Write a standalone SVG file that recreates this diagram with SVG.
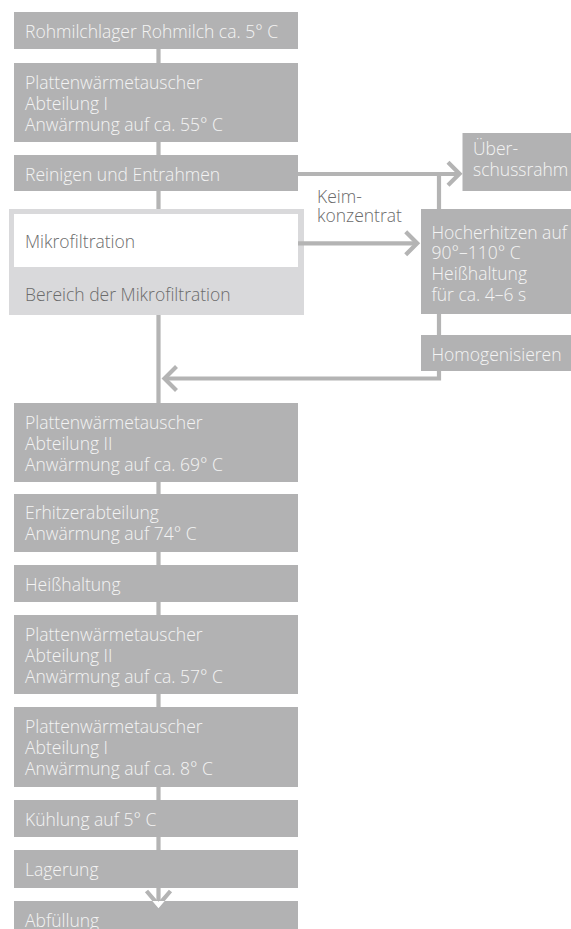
<svg xmlns="http://www.w3.org/2000/svg" width="571" height="929" viewBox="0 0 571 929">
<style>
.box{fill:#b2b2b3}
.t{font-family:"Open Sans","Noto Sans","Liberation Sans",sans-serif;font-weight:300;font-size:17.5px;fill:#f4f4f4}
.d{fill:#6b6b6b}
.ln{fill:none;stroke:#b4b4b4;stroke-width:4.2}
.ah{fill:none;stroke:#b4b4b4;stroke-width:4.2;stroke-linejoin:miter}
</style>
<rect width="571" height="929" fill="#ffffff"/>
<g id="nodes">
<g id="n1"><rect class="box" x="14" y="12" width="284" height="37"/><text class="t" x="25" y="37.5">Rohmilchlager Rohmilch ca. 5° C</text></g>
<g id="n2"><rect class="box" x="14" y="63" width="284" height="79"/><text class="t" x="25" y="89"><tspan x="25">Plattenwärmetauscher</tspan><tspan x="25" dy="21">Abteilung I</tspan><tspan x="25" dy="21">Anwärmung auf ca. 55° C</tspan></text></g>
<g id="n3"><rect class="box" x="14" y="155" width="284" height="36"/><text class="t" x="25" y="180.5">Reinigen und Entrahmen</text></g>
<g id="n4"><rect x="9" y="209" width="295" height="106" fill="#d9d9db"/><rect x="14" y="214" width="284" height="53" fill="#ffffff"/><text class="t d" x="25" y="247.5">Mikrofiltration</text><text class="t d" x="25" y="301">Bereich der Mikrofiltration</text></g>
<g id="n5"><rect class="box" x="462.5" y="133" width="108.5" height="58"/><text class="t" x="473" y="155"><tspan x="473">Über-</tspan><tspan x="473" dy="21">schussrahm</tspan></text></g>
<g id="n6"><rect class="box" x="421" y="209" width="150" height="105"/><text class="t" x="431.5" y="238.5"><tspan x="431.5">Hocherhitzen auf</tspan><tspan x="431.5" dy="20.7">90°–110° C</tspan><tspan x="431.5" dy="20.7">Heißhaltung</tspan><tspan x="431.5" dy="20.7">für ca. 4–6 s</tspan></text></g>
<g id="n7"><rect class="box" x="421" y="335" width="150" height="36"/><text class="t" x="431.5" y="360.5">Homogenisieren</text></g>
<g id="n8"><rect class="box" x="14" y="403" width="284" height="79"/><text class="t" x="25" y="428.5"><tspan x="25">Plattenwärmetauscher</tspan><tspan x="25" dy="21">Abteilung II</tspan><tspan x="25" dy="21">Anwärmung auf ca. 69° C</tspan></text></g>
<g id="n9"><rect class="box" x="14" y="494" width="284" height="58"/><text class="t" x="25" y="519"><tspan x="25">Erhitzerabteilung</tspan><tspan x="25" dy="21">Anwärmung auf 74° C</tspan></text></g>
<g id="n10"><rect class="box" x="14" y="565" width="284" height="37"/><text class="t" x="25" y="590.5">Heißhaltung</text></g>
<g id="n11"><rect class="box" x="14" y="615" width="284" height="79"/><text class="t" x="25" y="640.5"><tspan x="25">Plattenwärmetauscher</tspan><tspan x="25" dy="21">Abteilung II</tspan><tspan x="25" dy="21">Anwärmung auf ca. 57° C</tspan></text></g>
<g id="n12"><rect class="box" x="14" y="707" width="284" height="80"/><text class="t" x="25" y="732.5"><tspan x="25">Plattenwärmetauscher</tspan><tspan x="25" dy="21">Abteilung I</tspan><tspan x="25" dy="21">Anwärmung auf ca. 8° C</tspan></text></g>
<g id="n13"><rect class="box" x="14" y="800" width="284" height="37"/><text class="t" x="25" y="825.5">Kühlung auf 5° C</text></g>
<g id="n14"><rect class="box" x="14" y="850" width="284" height="38"/><text class="t" x="25" y="875.5">Lagerung</text></g>
<g id="n15"><rect class="box" x="14" y="901" width="284" height="40"/><text class="t" x="25" y="926.5">Abfüllung</text></g>
</g>
<g id="connectors">
<path class="ln" d="M158.5,49V63M158.5,142V155M158.5,191V209M158.5,315V403M158.5,482V494M158.5,552V565M158.5,602V615M158.5,694V707M158.5,787V800M158.5,837V850M158.5,888V901"/>
<path class="ln" d="M298,174H459M439,174V209M439,314V335M439,371V378.5H165"/>
<polyline class="ah" points="448,162.2 459.5,173.7 448,185.2"/>
<path class="ln" d="M298,243.3H417"/>
<polyline class="ah" points="405.7,231.8 417.2,243.3 405.7,254.8"/>
<polyline class="ah" points="176.5,366.5 164.5,378.5 176.5,390.5"/>
<clipPath id="gap"><rect x="100" y="880" width="100" height="21"/></clipPath>
<clipPath id="inbox"><rect x="100" y="901" width="100" height="20"/></clipPath>
<polyline class="ah" clip-path="url(#gap)" points="146.5,891 158.5,905 170.5,891"/>
<polyline class="ah" clip-path="url(#inbox)" style="stroke:#ffffff" points="146.5,891 158.5,905 170.5,891"/>
</g>
<g id="label"><text class="t d" x="317" y="202.7"><tspan x="317">Keim-</tspan><tspan x="317" dy="19">konzentrat</tspan></text></g>
</svg>
